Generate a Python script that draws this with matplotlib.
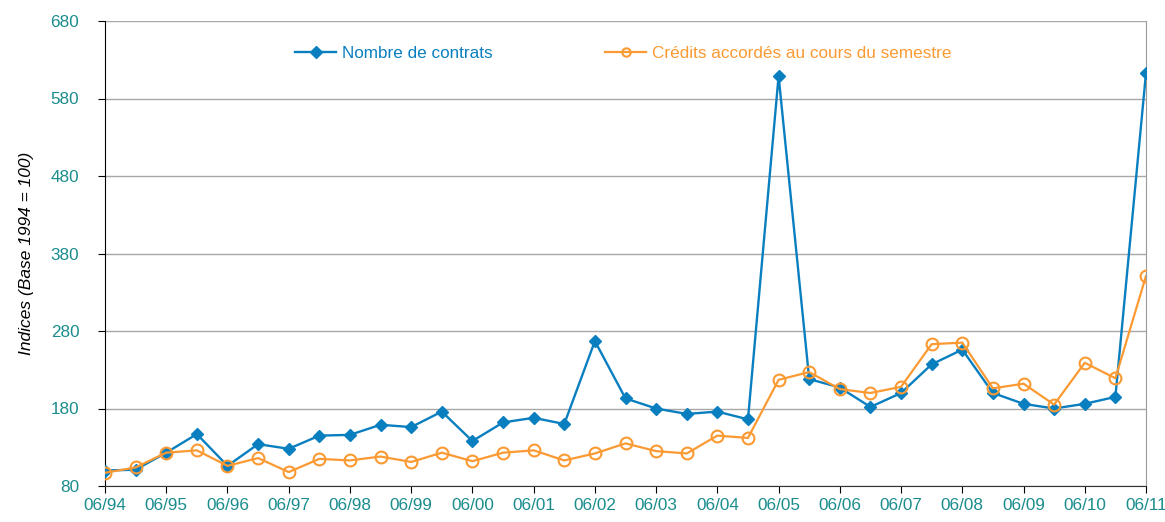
import numpy as np
import matplotlib
matplotlib.use("Agg")
import matplotlib.pyplot as plt

plt.rcParams['font.family'] = ['Liberation Sans', 'DejaVu Sans']

# semestres de 06/94 a 06/11
periods = ['06/94', '12/94', '06/95', '12/95', '06/96', '12/96', '06/97', '12/97',
           '06/98', '12/98', '06/99', '12/99', '06/00', '12/00', '06/01', '12/01',
           '06/02', '12/02', '06/03', '12/03', '06/04', '12/04', '06/05', '12/05',
           '06/06', '12/06', '06/07', '12/07', '06/08', '12/08', '06/09', '12/09',
           '06/10', '12/10', '06/11']

contrats = [100, 101, 123, 147, 106, 134, 128, 145, 146, 159, 156, 176,
            138, 162, 168, 160, 267, 193, 180, 173, 176, 166, 609, 218,
            207, 182, 200, 237, 256, 200, 186, 180, 186, 195, 613]

credits = [97, 104, 123, 126, 106, 116, 98, 115, 113, 118, 111, 123,
           112, 123, 126, 113, 122, 135, 125, 122, 145, 142, 217, 227,
           205, 200, 208, 263, 265, 206, 212, 185, 239, 219, 351]

yticks = [80, 180, 280, 380, 480, 580, 680]

blue = '#0a7fc0'
orange = '#fb9a33'
teal = '#1a8c8c'

x = np.arange(len(periods)) / 2.0

fig = plt.figure(figsize=(11.65, 5.22), dpi=100)
ax = fig.add_axes([105 / 1165, 36 / 522, 1041 / 1165, 465 / 522])

ax.plot(x, contrats, color=blue, lw=1.7, marker='D', ms=6,
        mfc=blue, mec=blue, label='Nombre de contrats', zorder=3)
ax.plot(x, credits, color=orange, lw=1.6, marker='o', ms=8.5,
        mfc='none', mec=orange, mew=1.5,
        label='Crédits accordés au cours du semestre', zorder=4)

ax.set_xlim(0, 17)
ax.set_ylim(80, 680)
ax.set_yticks(yticks)
ax.set_xticks(x[::2])
ax.set_xticklabels(periods[::2])

ax.grid(axis='y', color='#a8a8a8', lw=1)
ax.set_axisbelow(True)

ax.spines['top'].set_visible(False)
ax.spines['right'].set_color('#999999')
ax.spines['left'].set_color('black')
ax.spines['bottom'].set_color('#333333')

ax.tick_params(axis='both', colors='black', labelcolor=teal, labelsize=12.3,
               direction='out', length=5)
ax.tick_params(axis='y', pad=13.5)
ax.tick_params(axis='x', pad=4)

ax.set_ylabel('Indices (Base 1994 = 100)', style='italic', fontsize=12.5,
              labelpad=12)

leg = ax.legend(loc='center', bbox_to_anchor=(0.498, 0.931), ncol=2,
                frameon=False, fontsize=12.3, handlelength=2.4,
                handletextpad=0.35, columnspacing=6.6)
for txt, c in zip(leg.get_texts(), [blue, orange]):
    txt.set_color(c)
for h in leg.legend_handles:
    h.set_markersize(6)

fig.savefig('out.png', dpi=100)
